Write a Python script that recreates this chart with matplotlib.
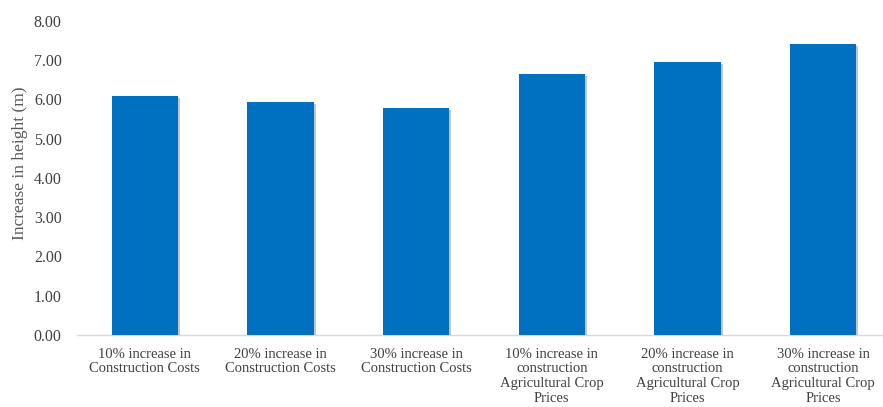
import matplotlib.pyplot as plt
import matplotlib.patheffects as pe

categories = ['10% increase in\nConstruction Costs',
              '20% increase in\nConstruction Costs',
              '30% increase in\nConstruction Costs',
              '10% increase in\nconstruction\nAgricultural Crop\nPrices',
              '20% increase in\nconstruction\nAgricultural Crop\nPrices',
              '30% increase in\nconstruction\nAgricultural Crop\nPrices']
values = [6.10, 5.94, 5.79, 6.65, 6.96, 7.41]
yticks = [0, 1, 2, 3, 4, 5, 6, 7, 8]

plt.rcParams['font.family'] = ['Liberation Serif', 'DejaVu Serif']

fig = plt.figure(figsize=(8.83, 4.07), dpi=100)
# axes runs a bit past the right edge, as in the reference crop
ax = fig.add_axes([77 / 883, 1 - 335 / 407, 814 / 883, 314 / 407])

x = range(len(values))
ax.bar(x, values, width=0.49, color='#0070C0', zorder=3,
       path_effects=[pe.SimplePatchShadow(offset=(1.5, -1.5), alpha=0.25),
                     pe.Normal()])

ax.set_xlim(-0.5, len(values) - 0.5)
ax.set_ylim(0, 8)
ax.set_yticks(yticks)
ax.set_yticklabels([f'{v:.2f}' for v in yticks], fontsize=11.5, color='#404040')
ax.set_xticks(list(x))
ax.set_xticklabels(categories, fontsize=10.5, color='#404040', linespacing=1.2)
ax.tick_params(axis='both', length=0)
ax.tick_params(axis='y', pad=11)
ax.tick_params(axis='x', pad=9)

for s in ['top', 'right', 'left']:
    ax.spines[s].set_visible(False)
ax.spines['bottom'].set_color('#D9D9D9')
ax.spines['bottom'].set_linewidth(1.0)

ax.set_ylabel('Increase in height (m)', fontsize=12.5, color='#595959')
ax.yaxis.set_label_coords(-49 / 814, 0.548)

plt.savefig('out.png', dpi=100)
plt.close()
